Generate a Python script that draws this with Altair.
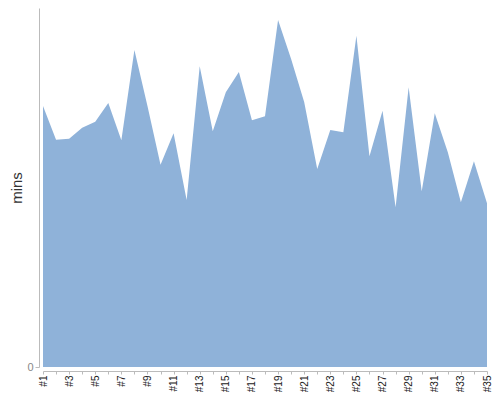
import altair as alt
import pandas as pd

games = [f"#{i}" for i in range(1, 36)]
mins = [261, 227.3, 228.3, 239.3, 245.3, 264, 226.7, 317, 261, 202.3,
        233.7, 167, 300.7, 235.7, 274.7, 295, 246.7, 250.7, 347, 308,
        265, 198, 237, 234.7, 331.3, 210.7, 256.3, 159.7, 279.7, 175.7,
        253.7, 214.7, 164.7, 205.7, 163.7]

df = pd.DataFrame({"game": games, "mins": mins})

chart = alt.Chart(df).mark_area(color="#8fb2d9", opacity=1).encode(
    x=alt.X("game:N", sort=games, title=None,
            scale=alt.Scale(type="point", padding=0),
            axis=alt.Axis(labelAngle=-90, offset=4, domainColor="#bbbbbb",
                          tickColor="#bbbbbb", tickSize=3, labelFontSize=10,
                          labelColor="#222222", labelFont="Liberation Sans",
                          labelPadding=1,
                          labelExpr="toNumber(slice(datum.value, 1)) % 2 == 1 ? datum.label : ''")),
    y=alt.Y("mins:Q", title="mins", scale=alt.Scale(domain=[0, 359], nice=False),
            axis=alt.Axis(values=[0], offset=4, grid=False, domainColor="#bbbbbb",
                          tickColor="#bbbbbb", tickSize=4, labelFontSize=11,
                          labelColor="#888888", labelFont="Liberation Sans",
                          labelPadding=2,
                          titleFont="Liberation Sans", titleFontSize=15,
                          titleFontWeight="normal", titleColor="#333333",
                          titlePadding=2)),
).properties(
    width=444, height=359,
    autosize=alt.AutoSizeParams(type="none"),
    padding={"left": 35, "top": 0, "right": 5, "bottom": 25},
).configure_view(stroke=None)

chart.save("out.html", embed_options={"renderer": "svg", "actions": False})
